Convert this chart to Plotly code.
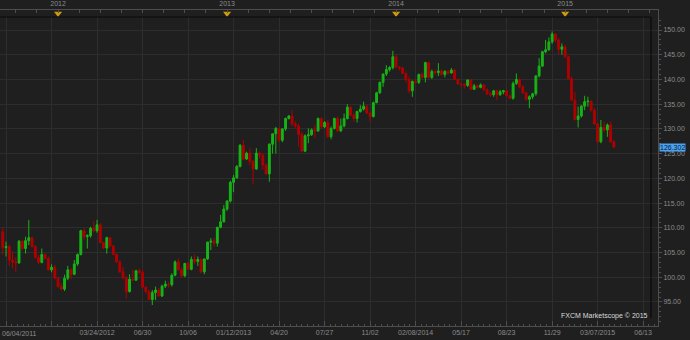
import pandas as pd
import plotly.graph_objects as go

# ---------------- data (weekly EUR/JPY candles) ----------------
first_week = "2011-09-03"

open_ = [109.2, 106.0, 106.2, 103.5, 103.1, 102.9, 107.3, 105.8, 107.4, 108.0,
         106.2, 104.0, 103.0, 104.6, 103.8, 101.5, 102.0, 99.8, 98.1, 97.6,
         99.8, 101.5, 100.6, 102.7, 104.6, 109.4, 108.2, 108.4, 109.9, 109.4,
         110.6, 107.0, 105.9, 108.0, 106.3, 104.6, 103.1, 101.1, 99.8, 97.1,
         99.6, 99.4, 101.3, 101.0, 98.0, 97.1, 95.5, 96.9, 97.4, 96.2,
         98.2, 98.6, 98.5, 100.4, 103.1, 101.5, 100.3, 102.8, 101.6, 103.6,
         103.2, 103.6, 101.1, 103.7, 107.1, 107.3, 106.9, 110.1, 111.2, 113.8,
         115.4, 119.2, 120.1, 122.4, 126.7, 123.9, 125.1, 123.4, 121.9, 125.1,
         124.7, 122.7, 120.9, 126.9, 129.0, 130.1, 127.7, 130.0, 132.1, 132.6,
         131.0, 130.6, 128.9, 125.5, 128.6, 128.8, 129.8, 129.6, 132.1, 130.4,
         131.3, 128.4, 130.1, 132.1, 129.6, 130.6, 132.1, 134.4, 132.8, 132.1,
         133.5, 134.0, 134.6, 133.2, 132.5, 135.3, 137.3, 139.4, 141.1, 142.0,
         142.4, 144.6, 142.5, 142.3, 141.2, 140.0, 137.7, 139.6, 139.4, 141.0,
         140.4, 143.4, 140.4, 141.6, 141.4, 141.7, 141.0, 141.6, 141.3, 141.9,
         140.0, 139.1, 139.0, 138.8, 139.9, 138.0, 138.7, 138.4, 138.9, 137.9,
         137.1, 136.9, 137.7, 136.9, 137.5, 137.7, 136.7, 136.2, 139.2, 140.0,
         138.5, 137.3, 136.0, 136.5, 137.1, 140.7, 142.7, 145.6, 146.0, 147.6,
         149.2, 148.0, 146.1, 146.6, 144.6, 140.2, 135.8, 131.9, 132.6, 134.6,
         135.5, 135.6, 133.8, 131.0, 127.4, 130.3, 129.8, 130.8, 127.4]

high = [110.1, 107.2, 106.5, 105.2, 104.1, 107.5, 107.5, 108.2, 111.6, 108.2,
        106.5, 104.5, 105.8, 104.8, 104.2, 102.6, 102.5, 100.1, 98.8, 100.5,
        102.3, 101.8, 103.5, 104.8, 109.6, 109.9, 108.7, 110.2, 111.4, 111.6,
        110.9, 107.2, 108.2, 108.0, 106.5, 104.8, 103.5, 102.1, 100.2, 100.6,
        101.5, 101.5, 101.7, 101.5, 98.2, 97.4, 97.4, 98.1, 97.8, 98.5,
        99.3, 99.1, 100.8, 103.4, 103.8, 102.0, 102.9, 103.1, 104.2, 104.6,
        104.2, 103.8, 103.8, 107.2, 107.9, 107.9, 110.2, 112.6, 114.6, 115.6,
        119.5, 120.7, 122.7, 126.9, 127.8, 125.4, 126.1, 123.7, 126.1, 125.4,
        124.9, 123.0, 127.1, 129.1, 130.4, 130.1, 130.1, 132.3, 132.8, 133.8,
        131.5, 131.1, 129.4, 128.9, 130.1, 130.1, 130.8, 132.3, 132.3, 131.6,
        131.8, 130.5, 132.3, 132.5, 132.1, 133.1, 135.0, 134.6, 133.2, 133.7,
        134.8, 135.5, 134.8, 133.5, 135.5, 137.5, 139.6, 141.2, 142.9, 142.7,
        145.8, 145.0, 142.7, 142.6, 141.6, 140.6, 139.8, 140.0, 141.2, 141.4,
        143.6, 143.6, 142.0, 142.0, 143.3, 142.0, 141.9, 141.9, 142.3, 142.1,
        140.2, 139.3, 139.3, 140.0, 140.0, 139.1, 139.0, 139.2, 139.0, 138.2,
        137.5, 137.9, 137.9, 137.9, 137.9, 137.9, 136.9, 139.6, 141.2, 140.2,
        138.9, 137.5, 136.8, 137.3, 140.9, 144.3, 145.8, 148.0, 148.5, 149.7,
        149.4, 148.3, 147.3, 147.0, 144.8, 140.6, 137.5, 134.5, 134.8, 136.7,
        136.5, 135.8, 134.2, 131.3, 131.8, 131.4, 131.1, 131.5, 127.8]

low = [104.5, 104.2, 102.2, 101.8, 101.1, 102.7, 105.5, 104.8, 106.5, 106.0,
       103.8, 102.7, 102.8, 103.6, 101.3, 101.0, 99.6, 97.9, 97.4, 97.2,
       99.4, 99.6, 100.4, 102.3, 104.4, 107.5, 105.8, 108.0, 109.1, 109.0,
       106.9, 105.7, 104.8, 106.2, 104.5, 102.9, 100.9, 99.8, 95.7, 96.9,
       99.3, 99.3, 100.6, 97.8, 96.7, 95.4, 94.4, 95.4, 96.1, 96.0,
       97.8, 97.9, 98.1, 100.2, 101.3, 99.9, 100.0, 101.5, 101.4, 102.7,
       102.3, 100.8, 100.6, 103.5, 105.5, 106.2, 106.2, 109.9, 111.1, 113.4,
       115.1, 117.2, 119.9, 122.2, 123.7, 123.7, 122.7, 118.8, 121.7, 124.0,
       121.7, 120.7, 119.3, 125.0, 125.0, 127.4, 127.3, 129.6, 131.9, 130.6,
       130.1, 126.4, 125.3, 125.3, 127.1, 128.6, 128.1, 129.4, 130.0, 130.2,
       128.2, 127.9, 129.9, 129.4, 129.4, 130.3, 131.9, 132.6, 131.5, 131.3,
       133.3, 133.7, 133.0, 131.5, 132.3, 135.2, 137.1, 138.5, 140.7, 141.6,
       142.0, 142.2, 141.8, 141.1, 139.4, 137.2, 136.5, 139.1, 139.1, 140.2,
       139.4, 140.2, 140.1, 141.0, 140.7, 140.8, 140.4, 141.0, 141.2, 139.9,
       138.9, 138.5, 138.2, 138.5, 137.9, 137.9, 138.2, 138.2, 137.7, 136.9,
       136.5, 136.5, 135.8, 136.7, 137.0, 136.5, 136.0, 135.9, 138.9, 138.2,
       137.1, 135.7, 134.2, 136.0, 136.7, 140.4, 142.5, 145.3, 145.8, 147.2,
       147.5, 145.0, 145.0, 144.3, 140.0, 135.7, 131.7, 130.3, 132.3, 133.8,
       134.5, 133.5, 130.8, 127.2, 127.1, 129.4, 128.4, 127.2, 126.3]

close = [106.0, 106.2, 103.5, 103.1, 102.9, 107.3, 105.8, 107.4, 108.0, 106.2,
         104.0, 103.0, 104.6, 103.8, 101.5, 102.0, 99.8, 98.1, 97.6, 99.8,
         101.5, 100.6, 102.7, 104.6, 109.4, 108.2, 108.4, 109.9, 109.4, 110.6,
         107.0, 105.9, 108.0, 106.3, 104.6, 103.1, 101.1, 99.8, 97.1, 99.6,
         99.4, 101.3, 101.0, 98.0, 97.1, 95.5, 96.9, 97.4, 96.2, 98.2,
         98.6, 98.5, 100.4, 103.1, 101.5, 100.3, 102.8, 101.6, 103.6, 103.2,
         103.6, 101.1, 103.7, 107.1, 107.3, 106.9, 110.1, 111.2, 113.8, 115.4,
         119.2, 120.1, 122.4, 126.7, 123.9, 125.1, 123.4, 121.9, 125.1, 124.7,
         122.7, 120.9, 126.9, 129.0, 130.1, 127.7, 130.0, 132.1, 132.6, 131.0,
         130.6, 128.9, 125.5, 128.6, 128.8, 129.8, 129.6, 132.1, 130.4, 131.3,
         128.4, 130.1, 132.1, 129.6, 130.6, 132.1, 134.4, 132.8, 132.1, 133.5,
         134.0, 134.6, 133.2, 132.5, 135.3, 137.3, 139.4, 141.1, 142.0, 142.4,
         144.6, 142.5, 142.3, 141.2, 140.0, 137.7, 139.6, 139.4, 141.0, 140.4,
         143.4, 140.4, 141.6, 141.4, 141.7, 141.0, 141.6, 141.3, 141.9, 140.0,
         139.1, 139.0, 138.8, 139.9, 138.0, 138.7, 138.4, 138.9, 137.9, 137.1,
         136.9, 137.7, 136.9, 137.5, 137.7, 136.7, 136.2, 139.2, 140.0, 138.5,
         137.3, 136.0, 136.5, 137.1, 140.7, 142.7, 145.6, 146.0, 147.6, 149.2,
         148.0, 146.1, 146.6, 144.6, 140.2, 135.8, 131.9, 132.6, 134.6, 135.5,
         135.6, 133.8, 131.0, 127.4, 130.3, 129.8, 130.8, 127.4, 126.302]

grid_dates = ["2011-09-10", "2011-12-17", "2012-03-24", "2012-06-30", "2012-10-06",
              "2013-01-12", "2013-04-20", "2013-07-27", "2013-11-02", "2014-02-08",
              "2014-05-17", "2014-08-23", "2014-11-29", "2015-03-07", "2015-06-13"]
grid_labels = ["", "", "03/24/2012", "06/30", "10/06", "01/12/2013", "04/20", "07/27",
               "11/02", "02/08/2014", "05/17", "08/23", "11/29", "03/07/2015", "06/13"]
first_label = "06/04/2011"

year_dates = ["2011-12-31", "2012-12-29", "2013-12-28", "2014-12-27"]
year_labels = ["2012", "2013", "2014", "2015"]

price_ticks = [95, 100, 105, 110, 115, 120, 125, 130, 135, 140, 145, 150]
last_price = 126.302
watermark = "FXCM Marketscope \u00a9 2015"

# ---------------- styling ----------------
BG = "#1f1f1f"
GRID = "#2d2d2d"
AXIS = "#4e4e4e"
TXT = "#8c8c8c"
UP = "#17b417"
DOWN = "#b00000"
FONT = "Liberation Sans"
DAY_MS = 86400000

dates = pd.date_range(first_week, periods=len(close), freq="7D")

fig = go.Figure()
fig.add_trace(go.Candlestick(
    x=dates, open=open_, high=high, low=low, close=close,
    increasing=dict(line=dict(color=UP, width=1), fillcolor=UP),
    decreasing=dict(line=dict(color=DOWN, width=1), fillcolor=DOWN),
    whiskerwidth=0, hoverinfo="skip", showlegend=False,
    xaxis="x", yaxis="y",
))

# year markers in the top strip
fig.add_trace(go.Scatter(
    x=year_dates, y=[0.45] * len(year_dates), mode="markers",
    marker=dict(symbol="triangle-down", size=7, color="#d19a0c", line=dict(width=0)),
    xaxis="x2", yaxis="y2", hoverinfo="skip", showlegend=False, cliponaxis=False,
))

x_range = ["2011-08-28", "2015-07-15"]
H_PLOT = 340 - 9 - 14
top_frac = (326 - 17) / H_PLOT

fig.update_layout(
    width=690, height=340,
    margin=dict(l=0, r=32, t=9, b=14),
    paper_bgcolor=BG, plot_bgcolor=BG,
    font=dict(family=FONT, size=7, color=TXT),
    boxgap=0.18,
    xaxis=dict(
        type="date", range=x_range, anchor="y",
        tickmode="array", tickvals=grid_dates, ticktext=grid_labels,
        showgrid=True, gridcolor=GRID, gridwidth=1,
        showline=True, linecolor=AXIS, linewidth=1,
        ticks="inside", ticklen=5, tickcolor=AXIS,
        minor=dict(ticks="inside", ticklen=2, tickcolor=AXIS,
                   tick0="2012-03-24", dtick=98 * DAY_MS / 8, showgrid=False),
        rangeslider=dict(visible=False), zeroline=False,
        tickfont=dict(size=7, color=TXT, family=FONT),
        fixedrange=True,
    ),
    xaxis2=dict(
        type="date", matches="x", overlaying="x", side="top",
        anchor="free", position=1,
        tickmode="array", tickvals=year_dates, ticktext=year_labels,
        showgrid=False, showline=True, linecolor=AXIS, linewidth=1,
        ticks="inside", ticklen=3, tickcolor=AXIS,
        minor=dict(ticks="inside", ticklen=3, tickcolor=AXIS,
                   tick0="2011-12-31", dtick=45.5 * DAY_MS, showgrid=False),
        tickfont=dict(size=7, color=TXT, family=FONT),
        zeroline=False,
    ),
    yaxis=dict(
        domain=[0, top_frac], range=[90.14, 152.63], side="right", anchor="x",
        tickmode="array", tickvals=price_ticks, tickformat=".2f",
        showgrid=True, gridcolor=GRID, gridwidth=1,
        showline=True, linecolor=AXIS, linewidth=1,
        ticks="outside", ticklen=3, tickcolor=AXIS,
        minor=dict(ticks="outside", ticklen=2, tickcolor=AXIS, dtick=1, showgrid=False),
        tickfont=dict(size=7, color=TXT, family=FONT),
        zeroline=False, fixedrange=True,
    ),
    yaxis2=dict(
        domain=[top_frac, 1], range=[0, 1], side="right", anchor="x",
        showgrid=False, showticklabels=False, showline=True, linecolor=AXIS,
        zeroline=False, ticks="",
    ),
)

edge = 651 / 658
shapes = [
    # strip between chart body and right price axis
    dict(type="rect", xref="paper", yref="paper", x0=edge, x1=1, y0=0, y1=top_frac,
         fillcolor=BG, line=dict(width=0), layer="below"),
    # dark frame lines of the chart body
    dict(type="line", xref="paper", yref="paper", x0=edge, x1=edge, y0=(326 - 318) / H_PLOT, y1=top_frac,
         line=dict(color="#050505", width=1)),
    dict(type="line", xref="paper", yref="paper", x0=0, x1=edge, y0=top_frac, y1=top_frac,
         line=dict(color="#0a0a0a", width=1)),
]
fig.update_layout(shapes=shapes)

fig.add_annotation(
    x=0, xref="paper", xanchor="left", y=0, yref="paper", yanchor="top", yshift=-2,
    text=first_label, showarrow=False, font=dict(size=7, color=TXT, family=FONT),
)
fig.add_annotation(
    x=edge, xref="paper", xanchor="right", y=(326 - 316) / H_PLOT, yref="paper", yanchor="middle",
    xshift=-1, text=watermark, showarrow=False, font=dict(size=7, color="#dcdcdc", family=FONT),
)
fig.add_annotation(
    x=1, xref="paper", xanchor="left", xshift=1, y=last_price, yref="y", yanchor="middle",
    text=f"{last_price:.3f}", showarrow=False, bgcolor="#4aa2f2", borderpad=0,
    font=dict(size=7, color="#0b1830", family=FONT),
)

fig.write_html("out.html")
